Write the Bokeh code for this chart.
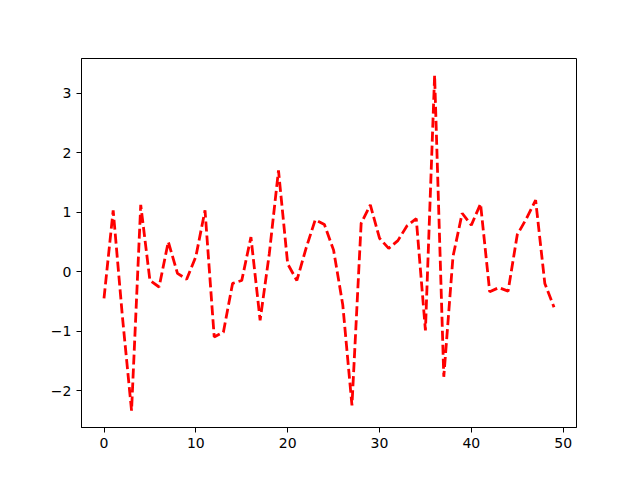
from bokeh.plotting import figure
from bokeh.models import Range1d, FixedTicker, ColumnDataSource
from bokeh.embed import file_html
from bokeh.resources import INLINE

x_vals = list(range(50))
y_vals = [-0.45, 1.03, -0.75, -2.34, 1.12, -0.15, -0.26, 0.50, -0.03, -0.13,
          0.25, 1.03, -1.10, -1.02, -0.20, -0.15, 0.58, -0.82, 0.30, 1.70,
          0.13, -0.15, 0.39, 0.87, 0.79, 0.36, -0.56, -2.25, 0.81, 1.12,
          0.56, 0.39, 0.52, 0.77, 0.89, -0.99, 3.30, -1.77, 0.25, 0.98,
          0.78, 1.14, -0.34, -0.27, -0.33, 0.62, 0.89, 1.20, -0.20, -0.60]
x_ticks = [0, 10, 20, 30, 40, 50]
y_ticks = [-2, -1, 0, 1, 2, 3]

xmin, xmax = min(x_vals), max(x_vals)
ymin, ymax = min(y_vals), max(y_vals)
xm = 0.05 * (xmax - xmin)
ym = 0.05 * (ymax - ymin)

p = figure(width=624, height=464, output_backend="svg", toolbar_location=None,
           x_range=Range1d(xmin - xm, xmax + xm), y_range=Range1d(ymin - ym, ymax + ym),
           min_border_left=81, min_border_right=48, min_border_top=58, min_border_bottom=37)

src = ColumnDataSource(data=dict(x=x_vals, y=y_vals))
p.line("x", "y", source=src, line_color="red", line_width=2.8, line_dash="10 4")

p.grid.visible = False
p.outline_line_color = "black"
p.outline_line_width = 1
p.background_fill_color = "white"
p.border_fill_color = "white"

p.xaxis.ticker = FixedTicker(ticks=x_ticks)
p.yaxis.ticker = FixedTicker(ticks=y_ticks)
p.yaxis.major_label_overrides = {t: (("\u2212" + str(abs(t))) if t < 0 else str(t)) for t in y_ticks}
for ax in (p.xaxis[0], p.yaxis[0]):
    ax.axis_line_color = "black"
    ax.major_tick_line_color = "black"
    ax.minor_tick_line_color = None
    ax.major_tick_out = 5
    ax.major_tick_in = 0
    ax.major_label_text_font = "DejaVu Sans"
    ax.major_label_text_font_size = "14px"
    ax.major_label_text_color = "black"
    ax.major_label_standoff = 5

open("out.html", "w").write(file_html(p, INLINE))
